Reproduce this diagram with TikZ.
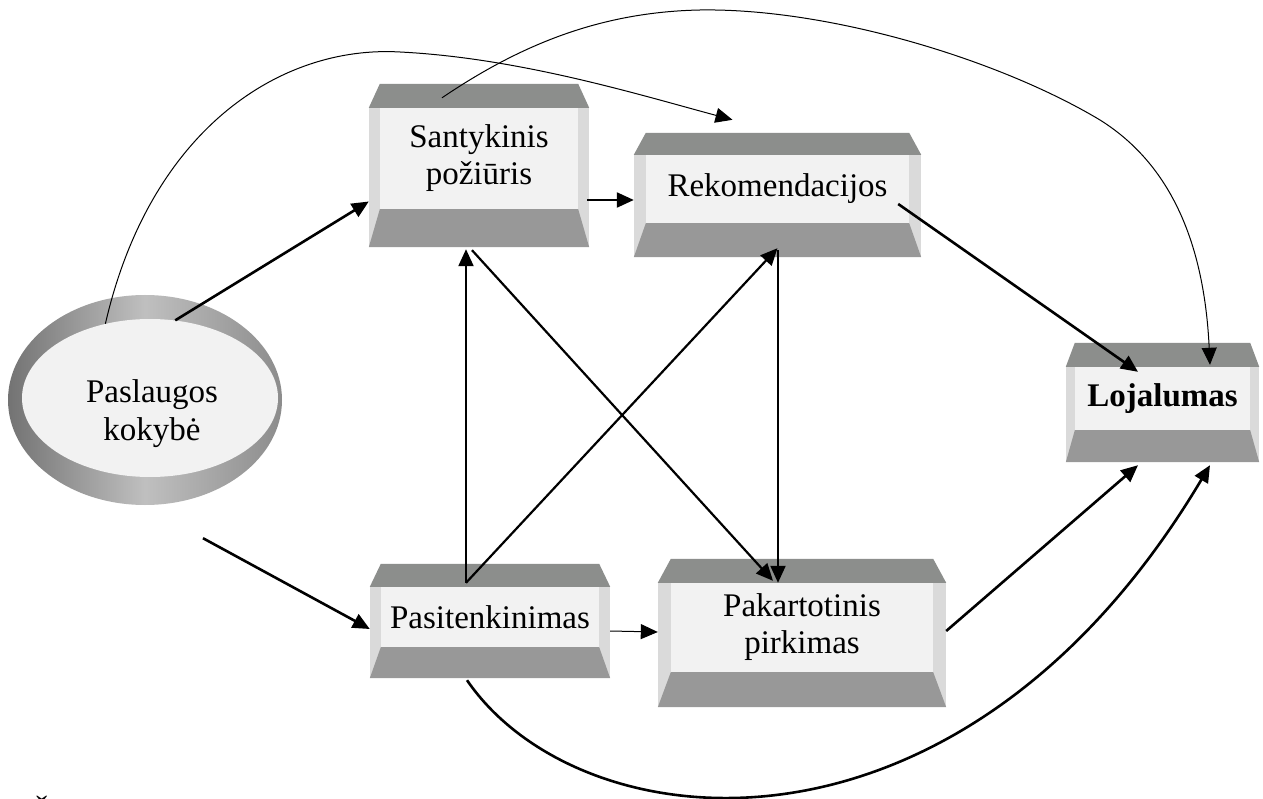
\documentclass[tikz,border=0pt]{standalone}
\usepackage{fontspec}
\setmainfont{Liberation Serif}
\usetikzlibrary{arrows.meta,shapes.geometric,calc}
\definecolor{facec}{HTML}{F2F2F2}
\definecolor{sidec}{HTML}{DADADA}
\definecolor{topc}{HTML}{8C8E8C}
\definecolor{botc}{HTML}{989898}
\tikzset{
  face/.style={rectangle, fill=facec, inner sep=0pt, align=center, font=\fontsize{33}{37}\selectfont},
  tip/.style={-{Triangle[length=17pt,width=15pt]}},
  thickc/.style={tip, line width=2.6pt},
  medc/.style={tip, line width=2.2pt},
  thinc/.style={tip, line width=1pt},
}
\newcommand\bevel[4]{%
  \fill[sidec] ([xshift=-#2pt]#1.north west) rectangle ([yshift=-#4pt]#1.south west);
  \fill[sidec] ([xshift=#2pt]#1.north east) rectangle ([yshift=-#4pt]#1.south east);
  \fill[topc] ([yshift=#3pt]#1.north west) -- ([yshift=#3pt]#1.north east) -- ([xshift=#2pt]#1.north east) -- ([xshift=-#2pt]#1.north west) -- cycle;
  \fill[botc] (#1.south west) -- (#1.south east) -- ([shift={(#2pt,-#4pt)}]#1.south east) -- ([shift={(-#2pt,-#4pt)}]#1.south west) -- cycle;
}
\begin{document}
\begin{tikzpicture}[x=1pt,y=-1pt]
\useasboundingbox (0,0) rectangle (1263,799);
\fill[white] (0,0) rectangle (1263,799);

% service quality ellipse
\shade[left color=black!55, right color=black!45, middle color=black!25] (145,400) ellipse [x radius=137pt, y radius=105pt];
\node[ellipse, fill=facec, minimum width=256pt, minimum height=158pt, inner sep=0pt] (pk) at (150,398) {};
\node[font=\fontsize{33}{38}\selectfont, align=center] (pktext) at (152,414) {Paslaugos\\kokybė};

% boxes
\node[face, minimum width=198pt, minimum height=101pt] (sant) at (479,158.5) {Santykinis\\požiūris};
\bevel{sant}{11}{24}{38}
\node[face, minimum width=263pt, minimum height=68pt] (rek) at (777.5,189) {Rekomendacijos};
\bevel{rek}{12}{22}{34}
\node[face, minimum width=262pt, minimum height=89pt] (pak) at (802,627.5) {Pakartotinis\\pirkimas};
\bevel{pak}{13}{24}{35}
\node[face, minimum width=175pt, minimum height=63pt] (loj) at (1162.5,398.5) {\bfseries Lojalumas};
\bevel{loj}{9}{24}{32}
\node[face, minimum width=218pt, minimum height=60pt] (pas) at (490,617) {Pasitenkinimas};
\bevel{pas}{11}{23}{31}

% connectors
\draw[thickc] (pk.72) -- ([shift={(-11pt,-43pt)}]sant.west);
\draw[thickc] ([shift={(53pt,-61pt)}]pk.south) -- ([shift={(-11pt,-12pt)}]pas.west);
\draw[medc] ([shift={(9pt,-41.5pt)}]sant.east) -- ([shift={(-12pt,-11pt)}]rek.west);
\draw[thinc] ([shift={(11pt,-14pt)}]pas.east) -- ([shift={(-13pt,-4.5pt)}]pak.west);
\draw[medc] ([shift={(-24pt,4pt)}]pas.north) -- ([shift={(-13pt,-40pt)}]sant.south);
\draw[medc] ([shift={(-24pt,4pt)}]pas.north) -- ([shift={(0pt,-25pt)}]rek.south);
\draw[medc] ([shift={(-7pt,-41pt)}]sant.south) -- ([shift={(-29pt,2pt)}]pak.north);
\draw[medc] ([shift={(0.5pt,-27pt)}]rek.south) -- ([shift={(-24pt,0pt)}]pak.north);
\draw[thickc] ([shift={(-11pt,-15pt)}]rek.east) -- ([shift={(-24.5pt,-5pt)}]loj.north);
\draw[thickc] ([shift={(13pt,-3.5pt)}]pak.east) -- ([shift={(-24.5pt,-35pt)}]loj.south);
\draw[thickc] ([shift={(-23pt,-33pt)}]pas.south) .. controls (580,845) and (960,885) .. ([shift={(47.5pt,-35pt)}]loj.south);
\draw[thinc] (pk.121) .. controls (150,130) and (280,45) .. (400,52) .. controls (520,58) and (640,95) .. ([shift={(-45pt,35pt)}]rek.north);
\draw[thinc] ([shift={(-37pt,10pt)}]sant.north) .. controls (520,45) and (600,12) .. (700,10) .. controls (830,8) and (1000,60) .. (1100,120) .. controls (1180,170) and (1205,260) .. ([shift={(47.5pt,2pt)}]loj.north);

\node[font=\fontsize{33}{37}\selectfont, anchor=base west, inner sep=0pt] (stray) at (32,824) {Š};
\end{tikzpicture}
\end{document}
